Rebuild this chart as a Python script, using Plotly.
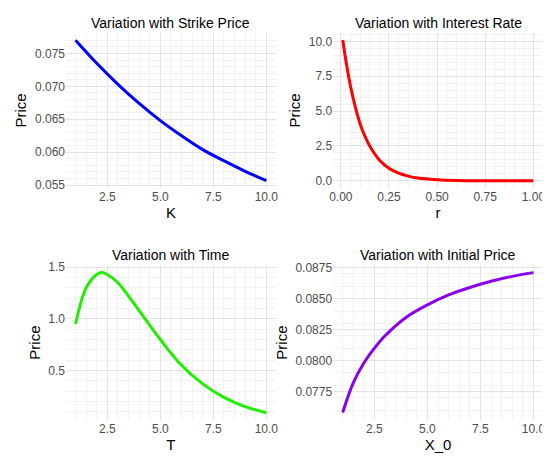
import plotly.graph_objects as go
from plotly.subplots import make_subplots

k_vals = [1, 2, 3, 4, 5, 6, 7, 8, 9, 10]
k_price = [0.0770, 0.0735, 0.0703, 0.0674, 0.0648, 0.0625, 0.0604, 0.0587, 0.0571, 0.0557]

r_vals = [0.01, 0.03, 0.05, 0.075, 0.1, 0.125, 0.15, 0.2, 0.25, 0.3, 0.35, 0.4, 0.5, 0.6, 0.75, 1.0]
r_price = [10.1, 8.3, 6.8, 5.3, 4.1, 3.2, 2.5, 1.5, 0.9, 0.55, 0.34, 0.2, 0.08, 0.03, 0.01, 0.0]

t_vals = [1, 1.5, 2, 2.25, 2.5, 3, 3.5, 4, 5, 6, 7, 8, 9, 10]
t_price = [0.95, 1.3, 1.43, 1.45, 1.43, 1.35, 1.22, 1.08, 0.8, 0.55, 0.37, 0.24, 0.15, 0.09]

x0_vals = [1, 1.5, 2, 2.5, 3, 4, 5, 6, 7, 8, 9, 10]
x0_price = [0.0758, 0.0782, 0.0798, 0.0810, 0.0820, 0.0835, 0.0845, 0.0853, 0.0859, 0.0864, 0.0868, 0.0871]

titles = ["Variation with Strike Price", "Variation with Interest Rate",
          "Variation with Time", "Variation with Initial Price"]

fig = make_subplots(rows=2, cols=2, subplot_titles=titles,
                    horizontal_spacing=0.12, vertical_spacing=0.2)

series = [(k_vals, k_price, "blue", 1, 1), (r_vals, r_price, "red", 1, 2),
          (t_vals, t_price, "#22ee00", 2, 1), (x0_vals, x0_price, "#8a00ee", 2, 2)]
for x, y, c, row, col in series:
    fig.add_trace(go.Scatter(x=x, y=y, mode="lines", line=dict(color=c, width=3, shape="spline"),
                             showlegend=False), row=row, col=col)

ax = dict(showgrid=True, gridcolor="#e3e3e3", zeroline=False, showline=False, ticks="",
          minor=dict(showgrid=True, gridcolor="#f2f2f2"),
          tickfont=dict(size=12, color="#4d4d4d"), title_font=dict(size=15, color="black"))
xlabels = ["K", "r", "T", "X_0"]
for i in range(4):
    row, col = i // 2 + 1, i % 2 + 1
    fig.update_xaxes(ax, title_text=xlabels[i], title_standoff=4, row=row, col=col)
    fig.update_yaxes(ax, title_text="Price", title_standoff=4, row=row, col=col)

fig.update_xaxes(tickvals=[2.5, 5, 7.5, 10], tickformat=".1f", range=[0.55, 10.45], row=1, col=1)
fig.update_xaxes(tickvals=[0, 0.25, 0.5, 0.75, 1], tickformat=".2f", range=[-0.04, 1.05], row=1, col=2)
fig.update_xaxes(tickvals=[2.5, 5, 7.5, 10], tickformat=".1f", range=[0.55, 10.45], row=2, col=1)
fig.update_xaxes(tickvals=[2.5, 5, 7.5, 10], tickformat=".1f", range=[0.55, 10.45], row=2, col=2)
fig.update_yaxes(tickvals=[0.055, 0.06, 0.065, 0.07, 0.075], tickformat=".3f", range=[0.0546, 0.0781], row=1, col=1)
fig.update_yaxes(tickvals=[0, 2.5, 5, 7.5, 10], tickformat=".1f", range=[-0.5, 10.6], row=1, col=2)
fig.update_yaxes(tickvals=[0.5, 1.0, 1.5], tickformat=".1f", range=[0.02, 1.52], row=2, col=1)
fig.update_yaxes(tickvals=[0.0775, 0.08, 0.0825, 0.085, 0.0875], tickformat=".4f", range=[0.0752, 0.0877], row=2, col=2)

fig.update_annotations(font=dict(size=14, color="black"))
fig.update_layout(width=550, height=457, plot_bgcolor="white", paper_bgcolor="white",
                  font=dict(family="Liberation Sans, Arial"),
                  margin=dict(l=50, r=15, t=25, b=45))
fig.write_html("out.html")
